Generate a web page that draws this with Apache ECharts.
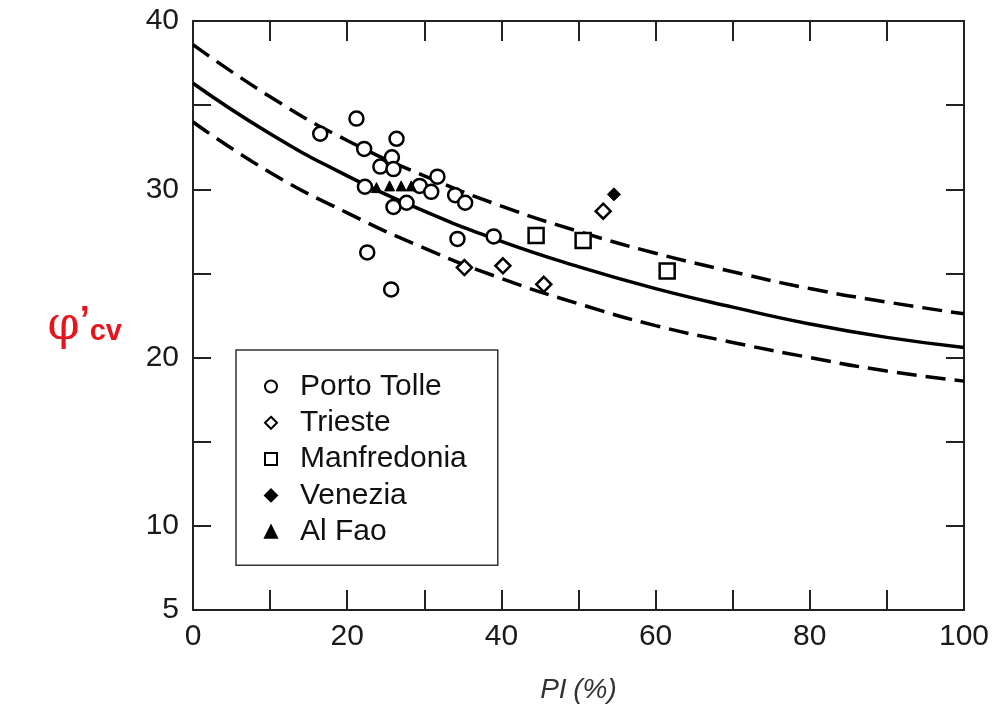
<!DOCTYPE html>
<html>
<head>
<meta charset="utf-8">
<script src="https://cdn.jsdelivr.net/npm/echarts@6/dist/echarts.min.js"></script>
<style>html,body{margin:0;padding:0;background:#fff;overflow:hidden}#c{width:1000px;height:709px}</style>
</head>
<body>
<div id="c"></div>
<script>
// ---- data ----
var curvePI = [0, 10, 20, 30, 40, 50, 60, 70, 80, 90, 100];
var meanCurve = [36.3, 33.3, 30.8, 28.7, 26.9, 25.4, 24.1, 23.0, 22.0, 21.2, 20.6];
var upperCurve = [38.6, 35.5, 32.9, 30.8, 29.0, 27.5, 26.2, 25.1, 24.1, 23.3, 22.6];
var lowerCurve = [34.0, 31.0, 28.6, 26.5, 24.7, 23.2, 21.9, 20.9, 20.0, 19.2, 18.6];

var portoTolle = [[21.2,34.2],[16.5,33.3],[26.4,33.0],[22.2,32.4],[25.8,31.9],[24.3,31.35],[26.0,31.2],
  [22.3,30.15],[29.4,30.2],[31.7,30.75],[30.9,29.85],[34.0,29.65],[35.3,29.2],[26.0,28.95],[27.7,29.2],
  [39.0,27.2],[34.3,27.05],[22.6,26.25],[25.7,24.05]];
var trieste = [[35.2,25.35],[40.2,25.45],[45.5,24.35],[53.2,28.7]];
var manfredonia = [[44.5,27.25],[50.6,26.95],[61.5,25.15]];
var venezia = [[54.6,29.7]];
var alFao = [[23.8,30.1],[25.5,30.2],[27.0,30.2],[28.3,30.2]];

var seriesNames = ['Porto Tolle', 'Trieste', 'Manfredonia', 'Venezia', 'Al Fao'];
var xLabelTicks = [0, 20, 40, 60, 80, 100];
var yLabelTicks = [5, 10, 20, 30, 40];

function pairs(xs, ys) { return xs.map(function (x, i) { return [x, ys[i]]; }); }

var chart = echarts.init(document.getElementById('c'), null, { renderer: 'canvas', width: 1000, height: 709 });
var FONT = "'Liberation Sans', Arial, sans-serif";
var axisCol = '#222';

var baseAxisLine = { show: true, onZero: false, lineStyle: { color: axisCol, width: 2 } };
var xTick = { show: true, inside: true, length: 20, lineStyle: { color: axisCol, width: 2 } };
var yTick = { show: true, inside: true, length: 18, lineStyle: { color: axisCol, width: 2 } };

var option = {
  backgroundColor: '#fff',
  animation: false,
  grid: { left: 193, width: 771, top: 21, height: 594, containLabel: false },
  legend: {
    data: seriesNames,
    orient: 'vertical',
    left: 236, top: 350,
    backgroundColor: '#fff',
    borderColor: '#333', borderWidth: 1.5,
    padding: [21, 31, 18, 28],
    itemWidth: 12, itemHeight: 12, itemGap: 5.3,
    textStyle: { fontFamily: FONT, fontSize: 30, color: '#111', lineHeight: 31, padding: [0, 0, 0, 18] },
    z: 10
  },
  xAxis: [{
    type: 'value', min: 0, max: 100, interval: 10, position: 'bottom',
    axisLine: baseAxisLine, axisTick: xTick,
    splitLine: { show: false },
    axisLabel: {
      fontFamily: FONT, fontSize: 30, color: '#1a1a1a', margin: 12,
      formatter: function (v) { return xLabelTicks.indexOf(v) >= 0 ? String(v) : ''; }
    },
    name: '{i|PI}  {n|(%)}', nameLocation: 'middle', nameGap: 66,
    nameTextStyle: { rich: {
      i: { fontFamily: FONT, fontSize: 28, fontStyle: 'italic', color: '#333' },
      n: { fontFamily: FONT, fontSize: 28, fontStyle: 'italic', color: '#333' }
    } }
  }, {
    type: 'value', min: 0, max: 100, interval: 10, position: 'top',
    axisLine: baseAxisLine, axisTick: xTick,
    axisLabel: { show: false }, splitLine: { show: false }
  }],
  yAxis: [{
    type: 'value', min: 5, max: 40, interval: 5, position: 'left',
    axisLine: baseAxisLine, axisTick: yTick,
    splitLine: { show: false },
    axisLabel: {
      fontFamily: FONT, fontSize: 30, color: '#1a1a1a', margin: 14,
      formatter: function (v) { return yLabelTicks.indexOf(v) >= 0 ? String(v) : ''; }
    },
    name: '{p|φ}{q|’}{c|cv}', nameLocation: 'middle', nameRotate: 0, nameGap: 71,
    nameTextStyle: {
      padding: [24, 0, 0, 0],
      rich: {
        p: { fontFamily: "'DejaVu Serif', serif", fontSize: 46, color: '#e8141b' },
        q: { fontFamily: FONT, fontSize: 36, fontWeight: 'bold', color: '#e8141b', verticalAlign: 'top' },
        c: { fontFamily: FONT, fontSize: 29, fontWeight: 'bold', color: '#e8141b', padding: [8, 0, 0, 0] }
      }
    }
  }, {
    type: 'value', min: 5, max: 40, interval: 5, position: 'right',
    axisLine: baseAxisLine, axisTick: yTick,
    axisLabel: { show: false }, splitLine: { show: false }
  }],
  series: [
    { name: 'mean', type: 'line', data: pairs(curvePI, meanCurve), smooth: true, showSymbol: false,
      lineStyle: { color: '#000', width: 3.5 }, z: 2, silent: true },
    { name: 'upper', type: 'line', data: pairs(curvePI, upperCurve), smooth: true, showSymbol: false,
      lineStyle: { color: '#000', width: 3.5, type: [20, 9] }, z: 2, silent: true },
    { name: 'lower', type: 'line', data: pairs(curvePI, lowerCurve), smooth: true, showSymbol: false,
      lineStyle: { color: '#000', width: 3.5, type: [20, 9] }, z: 2, silent: true },
    { name: 'Porto Tolle', type: 'scatter', data: portoTolle, symbol: 'circle', symbolSize: 14,
      itemStyle: { color: '#fff', borderColor: '#000', borderWidth: 2.5, opacity: 1 }, z: 5 },
    { name: 'Trieste', type: 'scatter', data: trieste, symbol: 'diamond', symbolSize: 15,
      itemStyle: { color: '#fff', borderColor: '#000', borderWidth: 2.5, opacity: 1 }, z: 5 },
    { name: 'Manfredonia', type: 'scatter', data: manfredonia, symbol: 'rect', symbolSize: 15,
      itemStyle: { color: '#fff', borderColor: '#000', borderWidth: 2.5, opacity: 1 }, z: 5 },
    { name: 'Venezia', type: 'scatter', data: venezia, symbol: 'diamond', symbolSize: 13,
      itemStyle: { color: '#000', borderColor: '#000', borderWidth: 1, opacity: 1 }, z: 5 },
    { name: 'Al Fao', type: 'scatter', data: alFao, symbol: 'triangle', symbolSize: 10,
      itemStyle: { color: '#000', borderColor: '#000', borderWidth: 1, opacity: 1 }, z: 5 }
  ]
};
chart.setOption(option);
</script>
</body>
</html>
